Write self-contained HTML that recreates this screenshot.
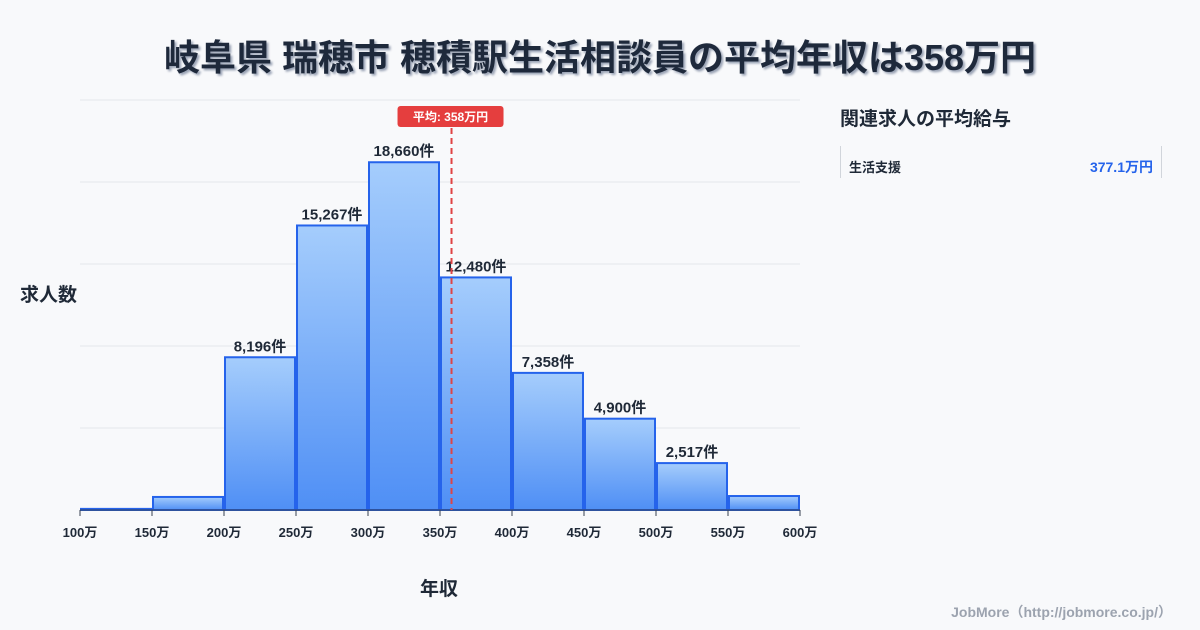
<!DOCTYPE html>
<html><head><meta charset="utf-8"><style>
body{margin:0;width:1200px;height:630px;background:#f8f9fb;font-family:"Liberation Sans","Noto Sans CJK JP",sans-serif;position:relative;overflow:hidden;color:#1f2937}
.t{position:absolute;white-space:nowrap}
</style></head><body>
<div class="t" style="left:0;width:1200px;top:29px;text-align:center;font-size:36px;font-weight:bold;color:#1e293b;text-shadow:2px 2px 2px #9aa3b5">岐阜県 瑞穂市 穂積駅生活相談員の平均年収は358万円</div>
<div class="t" style="left:20px;top:280px;font-size:19px;font-weight:bold">求人数</div>
<div class="t" style="left:420px;top:574px;font-size:19px;font-weight:bold">年収</div>
<div class="t" style="left:840px;top:104px;font-size:19px;font-weight:bold">関連求人の平均給与</div>
<div style="position:absolute;left:840px;top:146px;width:320px;height:32px;border-left:1px solid #d1d5db;border-right:1px solid #d1d5db">
<span class="t" style="left:8px;top:11px;font-size:13px;font-weight:bold">生活支援</span>
<span class="t" style="right:8px;top:11px;font-size:14px;font-weight:bold;color:#2563eb">377.1万円</span></div>
<div class="t" style="right:28px;top:602px;font-size:14px;font-weight:bold;color:#9ca3af">JobMore（http://jobmore.co.jp/）</div>
<svg id="c" width="1200" height="630" style="position:absolute;left:0;top:0">
<defs><linearGradient id="g" x1="0" y1="0" x2="0" y2="1"><stop offset="0" stop-color="#a5cdfc"/><stop offset="1" stop-color="#4f8ff5"/></linearGradient></defs>
</svg>
<script>
const bins=[100,150,200,250,300,350,400,450,500,550];
const counts=[60,700,8196,15267,18660,12480,7358,4900,2517,750];
const labels=["","","8,196件","15,267件","18,660件","12,480件","7,358件","4,900件","2,517件",""];
const ticks=[100,150,200,250,300,350,400,450,500,550,600];
const avg=358;
const yMax=22000;
const svg=document.getElementById('c');const NS='http://www.w3.org/2000/svg';
const X=v=>80+(v-100)*720/500, Y=v=>510-v*410/yMax;
function mk(t,a,p){const e=document.createElementNS(NS,t);for(const k in a)e.setAttribute(k,a[k]);(p||svg).appendChild(e);return e;}
for(let i=0;i<=5;i++){const g=mk('line',{x1:80,x2:800,y1:Y(i*4400),y2:Y(i*4400),stroke:'#e5e7eb'});

}
counts.forEach((c,i)=>{const x0=X(bins[i])+1,x1=X(bins[i]+50)-1;
const r=mk('rect',{x:x0,y:Y(c),width:x1-x0,height:510-Y(c),fill:'url(#g)',stroke:'#2563eb','stroke-width':2});


if(labels[i]){const t=mk('text',{x:(x0+x1)/2,y:Y(c)-6,'text-anchor':'middle','font-size':15,'font-weight':'bold',fill:'#1f2937'});t.textContent=labels[i];

}});
const ax=mk('line',{x1:80,x2:800,y1:510,y2:510,stroke:'#374151'});


ticks.forEach(v=>{const l=mk('line',{x1:X(v),x2:X(v),y1:510,y2:516,stroke:'#374151'});


const t=mk('text',{x:X(v),y:537,'text-anchor':'middle','font-size':13,'font-weight':'bold',fill:'#1f2937'});t.textContent=v+'万';

});
const ml=mk('line',{x1:X(avg),x2:X(avg),y1:128,y2:510,stroke:'#e04444','stroke-width':2,'stroke-dasharray':'6,4'});


const mb=mk('rect',{x:X(avg)-54,y:106,width:106,height:21,rx:3,fill:'#e53e3e'});


const mt=mk('text',{x:X(avg)-1,y:121,'text-anchor':'middle','font-size':12,'font-weight':'bold',fill:'#fff'});mt.textContent='平均: '+avg+'万円';


</script>
</body></html>
